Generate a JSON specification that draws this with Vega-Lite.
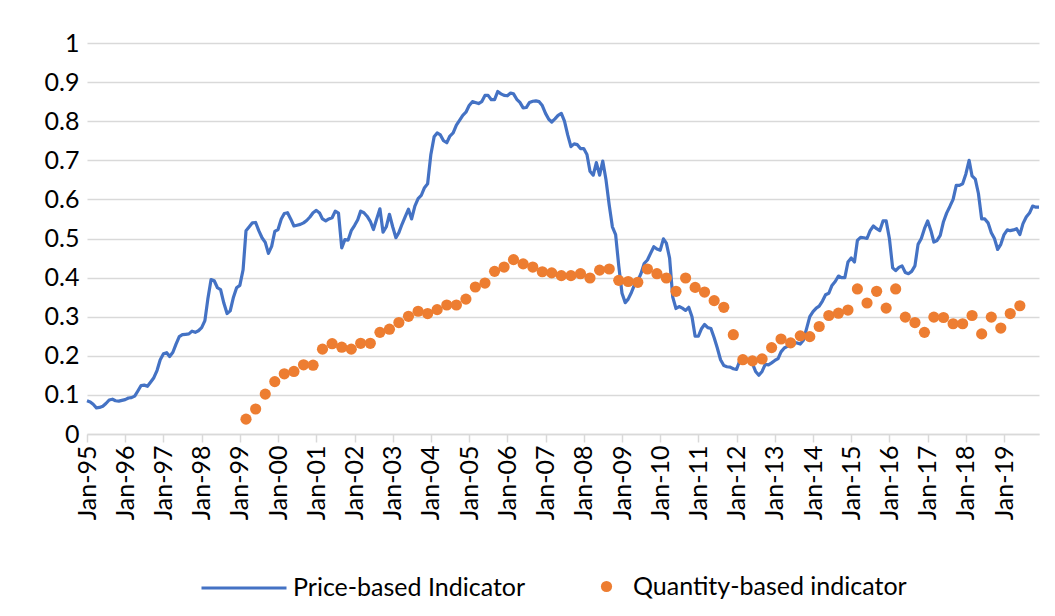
{
  "$schema": "https://vega.github.io/schema/vega-lite/v6.json",
  "autosize": {"type": "none"},
  "width": 952,
  "height": 391,
  "padding": {"left": 87, "top": 43, "right": 16, "bottom": 182},
  "background": "white",
  "config": {
    "view": {"stroke": null},
    "font": "Lato",
    "axis": {"labelFont": "Lato", "labelFontSize": 25, "labelColor": "#000000", "title": null}
  },
  "datasets": {
    "price": [
      {"d":"1995-01-01","v":0.085},{"d":"1995-02-01","v":0.082},{"d":"1995-03-01","v":0.076},{"d":"1995-04-01","v":0.067},{"d":"1995-05-01","v":0.068},{"d":"1995-06-01","v":0.071},{"d":"1995-07-01","v":0.078},{"d":"1995-08-01","v":0.087},{"d":"1995-09-01","v":0.089},{"d":"1995-10-01","v":0.085},{"d":"1995-11-01","v":0.084},{"d":"1995-12-01","v":0.086},
      {"d":"1996-01-01","v":0.088},{"d":"1996-02-01","v":0.092},{"d":"1996-03-01","v":0.093},{"d":"1996-04-01","v":0.097},{"d":"1996-05-01","v":0.11},{"d":"1996-06-01","v":0.124},{"d":"1996-07-01","v":0.125},{"d":"1996-08-01","v":0.122},{"d":"1996-09-01","v":0.133},{"d":"1996-10-01","v":0.144},{"d":"1996-11-01","v":0.163},{"d":"1996-12-01","v":0.19},
      {"d":"1997-01-01","v":0.205},{"d":"1997-02-01","v":0.208},{"d":"1997-03-01","v":0.198},{"d":"1997-04-01","v":0.209},{"d":"1997-05-01","v":0.23},{"d":"1997-06-01","v":0.249},{"d":"1997-07-01","v":0.254},{"d":"1997-08-01","v":0.255},{"d":"1997-09-01","v":0.256},{"d":"1997-10-01","v":0.263},{"d":"1997-11-01","v":0.26},{"d":"1997-12-01","v":0.264},
      {"d":"1998-01-01","v":0.272},{"d":"1998-02-01","v":0.29},{"d":"1998-03-01","v":0.345},{"d":"1998-04-01","v":0.395},{"d":"1998-05-01","v":0.392},{"d":"1998-06-01","v":0.374},{"d":"1998-07-01","v":0.369},{"d":"1998-08-01","v":0.335},{"d":"1998-09-01","v":0.308},{"d":"1998-10-01","v":0.315},{"d":"1998-11-01","v":0.35},{"d":"1998-12-01","v":0.374},
      {"d":"1999-01-01","v":0.38},{"d":"1999-02-01","v":0.42},{"d":"1999-03-01","v":0.52},{"d":"1999-04-01","v":0.53},{"d":"1999-05-01","v":0.54},{"d":"1999-06-01","v":0.541},{"d":"1999-07-01","v":0.52},{"d":"1999-08-01","v":0.502},{"d":"1999-09-01","v":0.49},{"d":"1999-10-01","v":0.462},{"d":"1999-11-01","v":0.48},{"d":"1999-12-01","v":0.518},
      {"d":"2000-01-01","v":0.523},{"d":"2000-02-01","v":0.55},{"d":"2000-03-01","v":0.564},{"d":"2000-04-01","v":0.566},{"d":"2000-05-01","v":0.55},{"d":"2000-06-01","v":0.532},{"d":"2000-07-01","v":0.534},{"d":"2000-08-01","v":0.536},{"d":"2000-09-01","v":0.54},{"d":"2000-10-01","v":0.546},{"d":"2000-11-01","v":0.555},{"d":"2000-12-01","v":0.566},
      {"d":"2001-01-01","v":0.572},{"d":"2001-02-01","v":0.565},{"d":"2001-03-01","v":0.55},{"d":"2001-04-01","v":0.545},{"d":"2001-05-01","v":0.55},{"d":"2001-06-01","v":0.553},{"d":"2001-07-01","v":0.57},{"d":"2001-08-01","v":0.565},{"d":"2001-09-01","v":0.476},{"d":"2001-10-01","v":0.497},{"d":"2001-11-01","v":0.496},{"d":"2001-12-01","v":0.52},
      {"d":"2002-01-01","v":0.533},{"d":"2002-02-01","v":0.548},{"d":"2002-03-01","v":0.57},{"d":"2002-04-01","v":0.566},{"d":"2002-05-01","v":0.557},{"d":"2002-06-01","v":0.544},{"d":"2002-07-01","v":0.523},{"d":"2002-08-01","v":0.55},{"d":"2002-09-01","v":0.576},{"d":"2002-10-01","v":0.516},{"d":"2002-11-01","v":0.53},{"d":"2002-12-01","v":0.562},
      {"d":"2003-01-01","v":0.53},{"d":"2003-02-01","v":0.502},{"d":"2003-03-01","v":0.515},{"d":"2003-04-01","v":0.537},{"d":"2003-05-01","v":0.556},{"d":"2003-06-01","v":0.575},{"d":"2003-07-01","v":0.55},{"d":"2003-08-01","v":0.583},{"d":"2003-09-01","v":0.602},{"d":"2003-10-01","v":0.61},{"d":"2003-11-01","v":0.63},{"d":"2003-12-01","v":0.64},
      {"d":"2004-01-01","v":0.715},{"d":"2004-02-01","v":0.76},{"d":"2004-03-01","v":0.77},{"d":"2004-04-01","v":0.765},{"d":"2004-05-01","v":0.75},{"d":"2004-06-01","v":0.745},{"d":"2004-07-01","v":0.762},{"d":"2004-08-01","v":0.77},{"d":"2004-09-01","v":0.79},{"d":"2004-10-01","v":0.802},{"d":"2004-11-01","v":0.815},{"d":"2004-12-01","v":0.823},
      {"d":"2005-01-01","v":0.84},{"d":"2005-02-01","v":0.85},{"d":"2005-03-01","v":0.848},{"d":"2005-04-01","v":0.845},{"d":"2005-05-01","v":0.85},{"d":"2005-06-01","v":0.866},{"d":"2005-07-01","v":0.866},{"d":"2005-08-01","v":0.855},{"d":"2005-09-01","v":0.855},{"d":"2005-10-01","v":0.876},{"d":"2005-11-01","v":0.87},{"d":"2005-12-01","v":0.866},
      {"d":"2006-01-01","v":0.865},{"d":"2006-02-01","v":0.872},{"d":"2006-03-01","v":0.87},{"d":"2006-04-01","v":0.856},{"d":"2006-05-01","v":0.848},{"d":"2006-06-01","v":0.834},{"d":"2006-07-01","v":0.835},{"d":"2006-08-01","v":0.848},{"d":"2006-09-01","v":0.851},{"d":"2006-10-01","v":0.852},{"d":"2006-11-01","v":0.85},{"d":"2006-12-01","v":0.84},
      {"d":"2007-01-01","v":0.82},{"d":"2007-02-01","v":0.805},{"d":"2007-03-01","v":0.798},{"d":"2007-04-01","v":0.806},{"d":"2007-05-01","v":0.815},{"d":"2007-06-01","v":0.82},{"d":"2007-07-01","v":0.8},{"d":"2007-08-01","v":0.765},{"d":"2007-09-01","v":0.735},{"d":"2007-10-01","v":0.742},{"d":"2007-11-01","v":0.74},{"d":"2007-12-01","v":0.73},
      {"d":"2008-01-01","v":0.73},{"d":"2008-02-01","v":0.715},{"d":"2008-03-01","v":0.672},{"d":"2008-04-01","v":0.662},{"d":"2008-05-01","v":0.694},{"d":"2008-06-01","v":0.662},{"d":"2008-07-01","v":0.698},{"d":"2008-08-01","v":0.65},{"d":"2008-09-01","v":0.585},{"d":"2008-10-01","v":0.53},{"d":"2008-11-01","v":0.51},{"d":"2008-12-01","v":0.43},
      {"d":"2009-01-01","v":0.36},{"d":"2009-02-01","v":0.336},{"d":"2009-03-01","v":0.345},{"d":"2009-04-01","v":0.362},{"d":"2009-05-01","v":0.382},{"d":"2009-06-01","v":0.392},{"d":"2009-07-01","v":0.41},{"d":"2009-08-01","v":0.436},{"d":"2009-09-01","v":0.445},{"d":"2009-10-01","v":0.462},{"d":"2009-11-01","v":0.479},{"d":"2009-12-01","v":0.473},
      {"d":"2010-01-01","v":0.47},{"d":"2010-02-01","v":0.499},{"d":"2010-03-01","v":0.488},{"d":"2010-04-01","v":0.45},{"d":"2010-05-01","v":0.35},{"d":"2010-06-01","v":0.321},{"d":"2010-07-01","v":0.326},{"d":"2010-08-01","v":0.322},{"d":"2010-09-01","v":0.316},{"d":"2010-10-01","v":0.324},{"d":"2010-11-01","v":0.3},{"d":"2010-12-01","v":0.25},
      {"d":"2011-01-01","v":0.25},{"d":"2011-02-01","v":0.27},{"d":"2011-03-01","v":0.28},{"d":"2011-04-01","v":0.272},{"d":"2011-05-01","v":0.27},{"d":"2011-06-01","v":0.246},{"d":"2011-07-01","v":0.22},{"d":"2011-08-01","v":0.19},{"d":"2011-09-01","v":0.175},{"d":"2011-10-01","v":0.172},{"d":"2011-11-01","v":0.171},{"d":"2011-12-01","v":0.167},
      {"d":"2012-01-01","v":0.165},{"d":"2012-02-01","v":0.188},{"d":"2012-03-01","v":0.19},{"d":"2012-04-01","v":0.19},{"d":"2012-05-01","v":0.188},{"d":"2012-06-01","v":0.18},{"d":"2012-07-01","v":0.16},{"d":"2012-08-01","v":0.15},{"d":"2012-09-01","v":0.16},{"d":"2012-10-01","v":0.178},{"d":"2012-11-01","v":0.177},{"d":"2012-12-01","v":0.182},
      {"d":"2013-01-01","v":0.188},{"d":"2013-02-01","v":0.193},{"d":"2013-03-01","v":0.21},{"d":"2013-04-01","v":0.22},{"d":"2013-05-01","v":0.224},{"d":"2013-06-01","v":0.232},{"d":"2013-07-01","v":0.233},{"d":"2013-08-01","v":0.233},{"d":"2013-09-01","v":0.23},{"d":"2013-10-01","v":0.24},{"d":"2013-11-01","v":0.27},{"d":"2013-12-01","v":0.3},
      {"d":"2014-01-01","v":0.313},{"d":"2014-02-01","v":0.322},{"d":"2014-03-01","v":0.327},{"d":"2014-04-01","v":0.34},{"d":"2014-05-01","v":0.356},{"d":"2014-06-01","v":0.36},{"d":"2014-07-01","v":0.38},{"d":"2014-08-01","v":0.39},{"d":"2014-09-01","v":0.404},{"d":"2014-10-01","v":0.4},{"d":"2014-11-01","v":0.4},{"d":"2014-12-01","v":0.44},
      {"d":"2015-01-01","v":0.45},{"d":"2015-02-01","v":0.44},{"d":"2015-03-01","v":0.495},{"d":"2015-04-01","v":0.503},{"d":"2015-05-01","v":0.502},{"d":"2015-06-01","v":0.5},{"d":"2015-07-01","v":0.52},{"d":"2015-08-01","v":0.532},{"d":"2015-09-01","v":0.525},{"d":"2015-10-01","v":0.52},{"d":"2015-11-01","v":0.545},{"d":"2015-12-01","v":0.545},
      {"d":"2016-01-01","v":0.5},{"d":"2016-02-01","v":0.425},{"d":"2016-03-01","v":0.418},{"d":"2016-04-01","v":0.426},{"d":"2016-05-01","v":0.43},{"d":"2016-06-01","v":0.413},{"d":"2016-07-01","v":0.41},{"d":"2016-08-01","v":0.416},{"d":"2016-09-01","v":0.43},{"d":"2016-10-01","v":0.485},{"d":"2016-11-01","v":0.5},{"d":"2016-12-01","v":0.525},
      {"d":"2017-01-01","v":0.545},{"d":"2017-02-01","v":0.52},{"d":"2017-03-01","v":0.491},{"d":"2017-04-01","v":0.495},{"d":"2017-05-01","v":0.508},{"d":"2017-06-01","v":0.543},{"d":"2017-07-01","v":0.565},{"d":"2017-08-01","v":0.582},{"d":"2017-09-01","v":0.6},{"d":"2017-10-01","v":0.636},{"d":"2017-11-01","v":0.636},{"d":"2017-12-01","v":0.64},
      {"d":"2018-01-01","v":0.665},{"d":"2018-02-01","v":0.7},{"d":"2018-03-01","v":0.66},{"d":"2018-04-01","v":0.652},{"d":"2018-05-01","v":0.615},{"d":"2018-06-01","v":0.55},{"d":"2018-07-01","v":0.55},{"d":"2018-08-01","v":0.54},{"d":"2018-09-01","v":0.515},{"d":"2018-10-01","v":0.5},{"d":"2018-11-01","v":0.472},{"d":"2018-12-01","v":0.485},
      {"d":"2019-01-01","v":0.51},{"d":"2019-02-01","v":0.522},{"d":"2019-03-01","v":0.52},{"d":"2019-04-01","v":0.522},{"d":"2019-05-01","v":0.525},{"d":"2019-06-01","v":0.51},{"d":"2019-07-01","v":0.538},{"d":"2019-08-01","v":0.555},{"d":"2019-09-01","v":0.565},{"d":"2019-10-01","v":0.583},{"d":"2019-11-01","v":0.58},{"d":"2019-12-01","v":0.58}
    ],
    "qty": [
      {"d":"1999-03-01","v":0.038},{"d":"1999-06-01","v":0.064},{"d":"1999-09-01","v":0.102},{"d":"1999-12-01","v":0.134},
      {"d":"2000-03-01","v":0.154},{"d":"2000-06-01","v":0.16},{"d":"2000-09-01","v":0.177},{"d":"2000-12-01","v":0.176},
      {"d":"2001-03-01","v":0.217},{"d":"2001-06-01","v":0.231},{"d":"2001-09-01","v":0.222},{"d":"2001-12-01","v":0.217},
      {"d":"2002-03-01","v":0.232},{"d":"2002-06-01","v":0.232},{"d":"2002-09-01","v":0.26},{"d":"2002-12-01","v":0.268},
      {"d":"2003-03-01","v":0.285},{"d":"2003-06-01","v":0.301},{"d":"2003-09-01","v":0.314},{"d":"2003-12-01","v":0.308},
      {"d":"2004-03-01","v":0.318},{"d":"2004-06-01","v":0.33},{"d":"2004-09-01","v":0.33},{"d":"2004-12-01","v":0.345},
      {"d":"2005-03-01","v":0.376},{"d":"2005-06-01","v":0.386},{"d":"2005-09-01","v":0.416},{"d":"2005-12-01","v":0.427},
      {"d":"2006-03-01","v":0.446},{"d":"2006-06-01","v":0.435},{"d":"2006-09-01","v":0.427},{"d":"2006-12-01","v":0.415},
      {"d":"2007-03-01","v":0.412},{"d":"2007-06-01","v":0.405},{"d":"2007-09-01","v":0.405},{"d":"2007-12-01","v":0.41},
      {"d":"2008-03-01","v":0.399},{"d":"2008-06-01","v":0.419},{"d":"2008-09-01","v":0.422},{"d":"2008-12-01","v":0.393},
      {"d":"2009-03-01","v":0.39},{"d":"2009-06-01","v":0.388},{"d":"2009-09-01","v":0.422},{"d":"2009-12-01","v":0.41},
      {"d":"2010-03-01","v":0.399},{"d":"2010-06-01","v":0.365},{"d":"2010-09-01","v":0.399},{"d":"2010-12-01","v":0.375},
      {"d":"2011-03-01","v":0.363},{"d":"2011-06-01","v":0.341},{"d":"2011-09-01","v":0.324},{"d":"2011-12-01","v":0.254},
      {"d":"2012-03-01","v":0.19},{"d":"2012-06-01","v":0.187},{"d":"2012-09-01","v":0.192},{"d":"2012-12-01","v":0.221},
      {"d":"2013-03-01","v":0.243},{"d":"2013-06-01","v":0.233},{"d":"2013-09-01","v":0.251},{"d":"2013-12-01","v":0.249},
      {"d":"2014-03-01","v":0.275},{"d":"2014-06-01","v":0.303},{"d":"2014-09-01","v":0.309},{"d":"2014-12-01","v":0.317},
      {"d":"2015-03-01","v":0.371},{"d":"2015-06-01","v":0.335},{"d":"2015-09-01","v":0.365},{"d":"2015-12-01","v":0.322},
      {"d":"2016-03-01","v":0.371},{"d":"2016-06-01","v":0.299},{"d":"2016-09-01","v":0.285},{"d":"2016-12-01","v":0.26},
      {"d":"2017-03-01","v":0.299},{"d":"2017-06-01","v":0.298},{"d":"2017-09-01","v":0.282},{"d":"2017-12-01","v":0.282},
      {"d":"2018-03-01","v":0.303},{"d":"2018-06-01","v":0.256},{"d":"2018-09-01","v":0.299},{"d":"2018-12-01","v":0.271},
      {"d":"2019-03-01","v":0.308},{"d":"2019-06-01","v":0.328}
    ]
  },
  "encoding": {
    "x": {
      "field": "d", "type": "temporal",
      "scale": {"type": "utc", "domain": ["1995-01-01", "2019-12-01"], "nice": false},
      "axis": {
        "format": "%b-%y", "tickCount": {"interval": "year", "step": 1},
        "labelAngle": 270, "labelAlign": "right", "labelBaseline": "middle",
        "labelPadding": 3, "labelOverlap": false, "labelFlush": false,
        "tickSize": 8, "tickColor": "#d9d9d9", "tickWidth": 1.5,
        "domainColor": "#d9d9d9", "domainWidth": 1.5, "grid": false
      }
    },
    "y": {
      "field": "v", "type": "quantitative",
      "scale": {"domain": [0, 1], "nice": false, "zero": true},
      "axis": {
        "values": [0, 0.1, 0.2, 0.3, 0.4, 0.5, 0.6, 0.7, 0.8, 0.9, 1],
        "format": ".1~f", "domain": false, "ticks": false, "labelOverlap": false,
        "grid": true, "gridColor": "#d9d9d9", "gridWidth": 1.5, "labelPadding": 8
      }
    }
  },
  "layer": [
    {
      "data": {"name": "price"},
      "mark": {"type": "line", "strokeWidth": 3.2, "strokeJoin": "round"},
      "encoding": {
        "color": {
          "datum": "Price-based Indicator", "type": "nominal",
          "scale": {"range": ["#4472C4"]},
          "legend": {
            "orient": "none", "legendX": 113, "legendY": 501, "title": null, "padding": 0,
            "symbolType": "stroke", "symbolSize": 7225, "symbolStrokeWidth": 3,
            "labelFont": "Lato", "labelFontSize": 25, "labelColor": "#000000", "labelOffset": 5, "labelLimit": 0
          }
        }
      }
    },
    {
      "data": {"name": "qty"},
      "mark": {"type": "point", "filled": true, "size": 125, "opacity": 1},
      "encoding": {
        "color": {
          "datum": "Quantity-based indicator", "type": "nominal",
          "scale": {"range": ["#ED7D31"]},
          "legend": {
            "orient": "none", "legendX": 507, "legendY": 531, "title": null, "padding": 0,
            "symbolType": "circle", "symbolSize": 125, "symbolOpacity": 1,
            "labelFont": "Lato", "labelFontSize": 25, "labelColor": "#000000", "labelOffset": 14, "labelLimit": 0
          }
        }
      }
    }
  ],
  "resolve": {"scale": {"color": "independent"}, "legend": {"color": "independent"}}
}
